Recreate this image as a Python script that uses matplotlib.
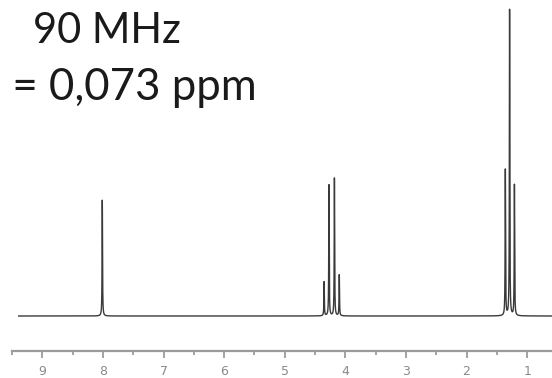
import numpy as np
import matplotlib
matplotlib.use("Agg")
import matplotlib.pyplot as plt

# ── peak list (ppm, intensity in arbitrary units) ─────────────────────────
singlet_ppm = [8.01]
singlet_int = [116]
quartet_ppm = [4.35, 4.27, 4.18, 4.10]
quartet_int = [34, 131, 138, 41]
triplet_ppm = [1.36, 1.29, 1.21]
triplet_int = [146, 306, 131]

tick_major = [9, 8, 7, 6, 5, 4, 3, 2, 1]
tick_labels = ["9", "8", "7", "6", "5", "4", "3", "2", "1"]

title_line1 = "90 MHz"
title_line2 = "δ = 0,073 ppm"

peak_ppm = singlet_ppm + quartet_ppm + triplet_ppm
peak_int = singlet_int + quartet_int + triplet_int

# ── build the trace as a sum of narrow Lorentzian lines ───────────────────
x = np.linspace(9.39, 0.59, 24000)
hw = 0.004
y = np.zeros_like(x)
for p, h in zip(peak_ppm, peak_int):
    y += h * hw**2 / ((x - p)**2 + hw**2)

W, H = 552, 378
fig = plt.figure(figsize=(W / 100, H / 100), dpi=100)
ax = fig.add_axes([12 / W, 27 / H, 540 / W, (H - 27 - 5) / H])

ax.plot(x, y, color="#3a3a3a", lw=1.0)
ax.set_xlim(9.39, 0.59)
ax.set_ylim(-35, 311)

for s in ["top", "right", "left"]:
    ax.spines[s].set_visible(False)
ax.spines["bottom"].set_color("#9a9a9a")
ax.spines["bottom"].set_linewidth(1.6)
ax.set_yticks([])

ax.set_xticks(tick_major)
ax.set_xticklabels(tick_labels)
ax.set_xticks(np.arange(9.5, 0.9, -1.0), minor=True)
ax.tick_params(axis="x", which="major", direction="out", length=5, width=1.1,
               color="#8a8a8a", labelcolor="#8a8a8a", labelsize=9, pad=5)
ax.tick_params(axis="x", which="minor", direction="out", length=3, width=1.1,
               color="#8a8a8a")

# header text; the delta sits partly off the left edge, as in the source
fig.text(33 / W, 1 - 43 / H, title_line1, fontsize=30, family="Lato",
         color="#1a1a1a", ha="left", va="baseline")
fig.text(257 / W, 1 - 100 / H, title_line2, fontsize=31.5, family="Lato",
         color="#1a1a1a", ha="right", va="baseline")

fig.savefig("out.png", dpi=100)
